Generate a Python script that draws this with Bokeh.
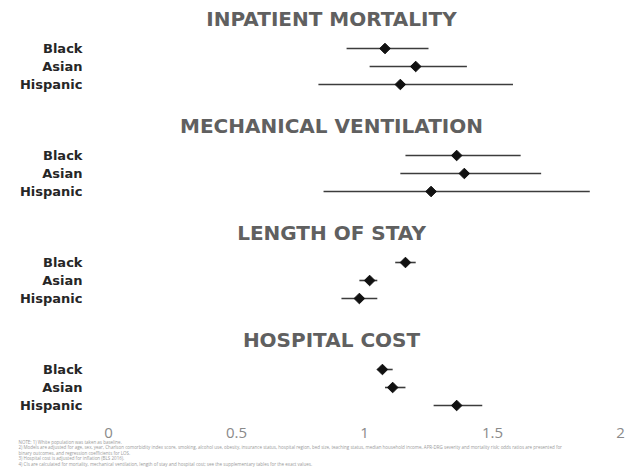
import math
from bokeh.plotting import figure
from bokeh.models import Range1d, FixedTicker, NumeralTickFormatter, ColumnDataSource
from bokeh.core.properties import value
from bokeh.embed import file_html
from bokeh.resources import INLINE

# ---------------- data ----------------
outcomes = ["INPATIENT MORTALITY", "MECHANICAL VENTILATION", "LENGTH OF STAY", "HOSPITAL COST"]
groups = ["Black", "Asian", "Hispanic"]

mortality_est = [1.08, 1.20, 1.14]
mortality_lo = [0.93, 1.02, 0.82]
mortality_hi = [1.25, 1.40, 1.58]

ventilation_est = [1.36, 1.39, 1.26]
ventilation_lo = [1.16, 1.14, 0.84]
ventilation_hi = [1.61, 1.69, 1.88]

los_est = [1.16, 1.02, 0.98]
los_lo = [1.12, 0.98, 0.91]
los_hi = [1.20, 1.05, 1.05]

cost_est = [1.07, 1.11, 1.36]
cost_lo = [1.05, 1.08, 1.27]
cost_hi = [1.11, 1.16, 1.46]

x_ticks = [0, 0.5, 1, 1.5, 2]

footnotes = [
    "NOTE: 1) White population was taken as baseline.",
    "2) Models are adjusted for age, sex, year, Charlson comorbidity index score, smoking, alcohol use, obesity, insurance status, hospital region, bed size, teaching status, median household income, APR-DRG severity and mortality risk; odds ratios are presented for",
    "binary outcomes, and regression coefficients for LOS.",
    "3) Hospital cost is adjusted for inflation (BLS 2016).",
    "4) CIs are calculated for mortality, mechanical ventilation, length of stay and hospital cost; see the supplementary tables for the exact values.",
]

estimates = [mortality_est, ventilation_est, los_est, cost_est]
lows = [mortality_lo, ventilation_lo, los_lo, cost_lo]
highs = [mortality_hi, ventilation_hi, los_hi, cost_hi]

# ---------------- layout (vertical units = pixels from top, negated) ----------------
W, H = 634, 471
PX_PER_UNIT = 256.0
X_ZERO = 108
PANEL_STEP = 107
ROW0 = 48
ROW_STEP = 18
TITLE0 = 18
TITLE_X = (331 - X_ZERO) / PX_PER_UNIT

x_start = -X_ZERO / PX_PER_UNIT
x_end = x_start + W / PX_PER_UNIT

p = figure(width=W, height=H, output_backend="svg", toolbar_location=None,
           x_range=Range1d(x_start, x_end),
           y_range=Range1d(-H, 0),
           min_border=0, outline_line_color=None, background_fill_color="white",
           border_fill_color="white")
p.xgrid.visible = False
p.ygrid.visible = False

xs, ys, lo_all, hi_all, tick_pos, tick_lab = [], [], [], [], [], []
for k in range(len(outcomes)):
    for r, g in enumerate(groups):
        y = -(ROW0 + k * PANEL_STEP + r * ROW_STEP)
        xs.append(estimates[k][r])
        lo_all.append(lows[k][r])
        hi_all.append(highs[k][r])
        ys.append(y)
        tick_pos.append(y)
        tick_lab.append(g)

src = ColumnDataSource(dict(x=xs, y=ys, lo=lo_all, hi=hi_all))
p.segment(x0="lo", x1="hi", y0="y", y1="y", source=src, line_color="#3c3c3c", line_width=1.6)
p.scatter(x="x", y="y", source=src, marker="square", angle=math.pi / 4, size=7.5,
          fill_color="#111111", line_color="#111111")

title_src = ColumnDataSource(dict(
    x=[TITLE_X] * len(outcomes),
    y=[-(TITLE0 + k * PANEL_STEP) for k in range(len(outcomes))],
    t=outcomes))
p.text(x="x", y="y", text="t", source=title_src, text_align="center",
       text_baseline="middle", text_font=value("DejaVu Sans"), text_font_style="bold",
       text_font_size="20px", text_color="#606060")

FOOT_X = (18 - X_ZERO) / PX_PER_UNIT
foot_src = ColumnDataSource(dict(
    x=[FOOT_X] * len(footnotes),
    y=[-(441 + i * 5.6) for i in range(len(footnotes))],
    t=footnotes))
p.text(x="x", y="y", text="t", source=foot_src, text_align="left", text_baseline="middle",
       text_font=value("Open Sans"), text_font_size="4.5px", text_color="#9a9a9a")

# y axis (group labels)
ya = p.yaxis[0]
ya.fixed_location = (92 - X_ZERO) / PX_PER_UNIT
ya.ticker = FixedTicker(ticks=tick_pos)
ya.major_label_overrides = {int(t): l for t, l in zip(tick_pos, tick_lab)}
ya.major_label_text_font = "DejaVu Sans"
ya.major_label_text_font_style = "bold"
ya.major_label_text_font_size = "13px"
ya.major_label_text_color = "#262626"
ya.major_label_standoff = 4
ya.axis_line_color = None
ya.major_tick_line_color = None
ya.minor_tick_line_color = None

# x axis
xa = p.xaxis[0]
xa.fixed_location = -420
xa.ticker = FixedTicker(ticks=x_ticks)
xa.formatter = NumeralTickFormatter(format="0.[0]")
xa.major_label_text_font = "Open Sans"
xa.major_label_text_font_size = "15px"
xa.major_label_text_color = "#8a8a8a"
xa.major_label_standoff = 1
xa.axis_line_color = None
xa.major_tick_line_color = None
xa.minor_tick_line_color = None

open("out.html", "w").write(file_html(p, INLINE))
